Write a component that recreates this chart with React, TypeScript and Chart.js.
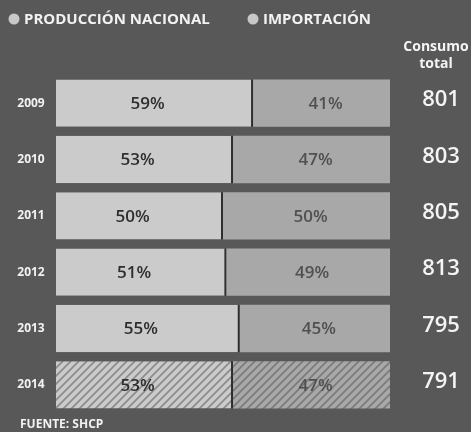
import React, { useEffect, useRef } from "react";
import { Chart, registerables } from "chart.js";

Chart.register(...registerables);

const years = ["2009", "2010", "2011", "2012", "2013", "2014"];
const produccionNacional = [59, 53, 50, 51, 55, 53];
const importacion = [41, 47, 50, 49, 45, 47];
const consumoTotal = [801, 803, 805, 813, 795, 791];
const legendLabels = ["PRODUCCIÓN NACIONAL", "IMPORTACIÓN"];
const headerLines = ["Consumo", "total"];
const sourceText = "FUENTE: SHCP";

const BG = "#585858";
const PROD = "#cbcbcb";
const IMP = "#a8a8a8";
const FONT = "'Open Sans', 'Noto Sans', sans-serif";

function makeHatch(base: string, line: string) {
  const c = document.createElement("canvas");
  c.width = 8;
  c.height = 8;
  const g = c.getContext("2d")!;
  g.fillStyle = base;
  g.fillRect(0, 0, 8, 8);
  g.strokeStyle = line;
  g.lineWidth = 1.6;
  g.beginPath();
  g.moveTo(0, 8);
  g.lineTo(8, 0);
  g.moveTo(-2, 2);
  g.lineTo(2, -2);
  g.moveTo(6, 10);
  g.lineTo(10, 6);
  g.stroke();
  const ctx = document.createElement("canvas").getContext("2d")!;
  return ctx.createPattern(c, "repeat")!;
}

export default function App() {
  const ref = useRef<HTMLCanvasElement>(null);

  useEffect(() => {
    if (!ref.current) return;
    const hatchProd = makeHatch(PROD, "#8a8a8a");
    const hatchImp = makeHatch(IMP, "#7a7a7a");
    const last = years.length - 1;

    const decor = {
      id: "decor",
      beforeDraw(chart: any) {
        const { ctx, width, height } = chart;
        ctx.save();
        ctx.fillStyle = BG;
        ctx.fillRect(0, 0, width, height);
        ctx.restore();
      },
      afterDatasetsDraw(chart: any) {
        const { ctx } = chart;
        const yScale = chart.scales.y;
        ctx.save();
        // percentages inside bars
        chart.data.datasets.forEach((ds: any, di: number) => {
          const meta = chart.getDatasetMeta(di);
          meta.data.forEach((bar: any, i: number) => {
            const { x, base, y } = bar.getProps(["x", "base", "y"], true);
            ctx.font = `600 17px ${FONT}`;
            ctx.fillStyle = di === 0 ? "#2e2e2e" : "#505050";
            ctx.textAlign = "center";
            ctx.textBaseline = "middle";
            ctx.fillText(`${ds.data[i]}%`, (x + base) / 2 + (di === 0 ? -7 : 4), y + 1);
          });
        });
        // year labels
        years.forEach((yr, i) => {
          const y = yScale.getPixelForValue(i);
          ctx.font = `bold 12px ${FONT}`;
          ctx.fillStyle = "#f2f2f2";
          ctx.textAlign = "center";
          ctx.textBaseline = "middle";
          ctx.fillText(yr, 31, y);
        });
        // consumo total values
        consumoTotal.forEach((v, i) => {
          const y = yScale.getPixelForValue(i);
          ctx.font = `600 22px ${FONT}`;
          ctx.fillStyle = "#f4f4f4";
          ctx.textAlign = "center";
          ctx.textBaseline = "middle";
          ctx.fillText(String(v), 441, y - 3);
        });
        // header
        ctx.font = `bold 14px ${FONT}`;
        ctx.fillStyle = "#f4f4f4";
        ctx.textAlign = "center";
        ctx.textBaseline = "middle";
        ctx.fillText(headerLines[0], 436, 47);
        ctx.fillText(headerLines[1], 436, 64);
        // legend
        const legendX = [14, 253];
        legendLabels.forEach((lab, i) => {
          ctx.beginPath();
          ctx.arc(legendX[i], 19, 5.5, 0, Math.PI * 2);
          ctx.fillStyle = "#c8c8c8";
          ctx.fill();
          ctx.font = `bold 15px ${FONT}`;
          ctx.fillStyle = "#f2f2f2";
          ctx.textAlign = "left";
          ctx.textBaseline = "middle";
          ctx.fillText(lab, legendX[i] + 10, 20);
        });
        // source
        ctx.font = `bold 12px ${FONT}`;
        ctx.fillStyle = "#f2f2f2";
        ctx.textAlign = "left";
        ctx.textBaseline = "middle";
        ctx.fillText(sourceText, 20, 425);
        ctx.restore();
      },
    };

    const chart = new Chart(ref.current, {
      type: "bar",
      data: {
        labels: years,
        datasets: [
          {
            label: legendLabels[0],
            data: produccionNacional,
            backgroundColor: years.map((_, i) => (i === last ? hatchProd : PROD)) as any,
            borderColor: "#2e2e2e",
            borderWidth: { top: 0, bottom: 0, left: 0, right: 2 } as any,
            borderSkipped: false,
            barPercentage: 0.84,
            categoryPercentage: 1,
          },
          {
            label: legendLabels[1],
            data: importacion,
            backgroundColor: years.map((_, i) => (i === last ? hatchImp : IMP)) as any,
            borderWidth: 0,
            barPercentage: 0.84,
            categoryPercentage: 1,
          },
        ],
      },
      options: {
        indexAxis: "y",
        responsive: false,
        animation: false,
        devicePixelRatio: 1,
        layout: { padding: { left: 56, right: 81, top: 75, bottom: 19 } },
        plugins: { legend: { display: false }, tooltip: { enabled: false } },
        scales: {
          x: { stacked: true, min: 0, max: 100, display: false },
          y: { stacked: true, display: false, offset: true },
        },
      },
      plugins: [decor],
    });
    return () => chart.destroy();
  }, []);

  return (
    <div style={{ position: "fixed", left: 0, top: 0, width: 471, height: 432, background: BG }}>
      <canvas ref={ref} width={471} height={432} />
    </div>
  );
}
